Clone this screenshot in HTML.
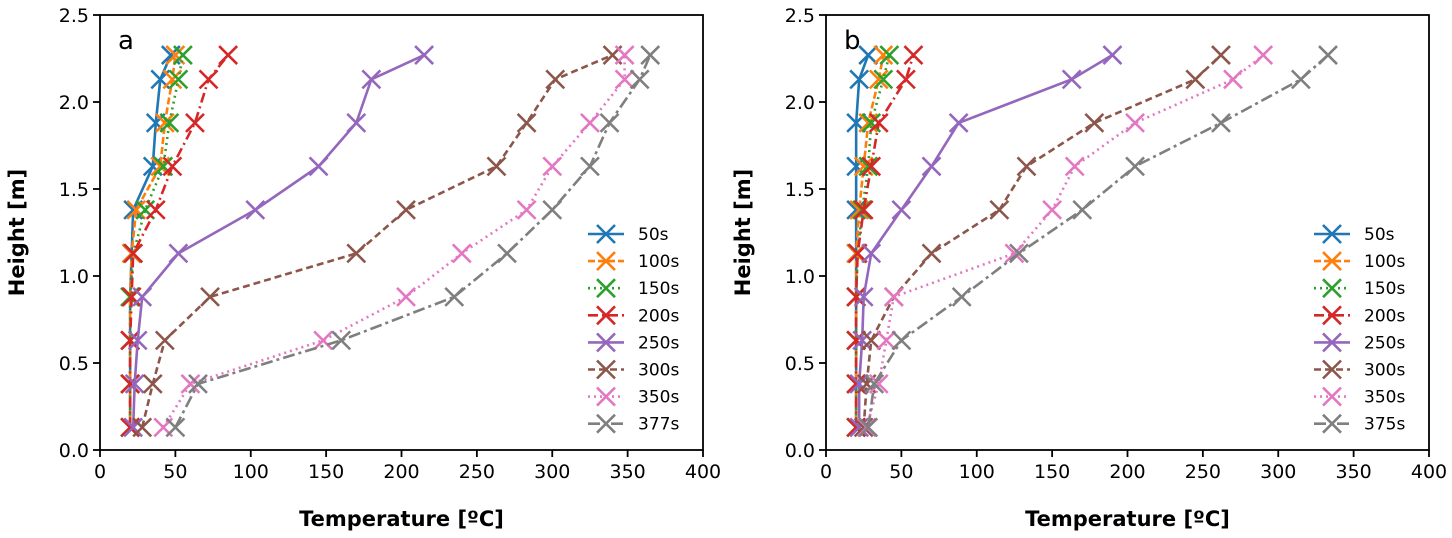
<!DOCTYPE html>
<html><head><meta charset="utf-8"><style>
body{margin:0;background:#fff}
svg{display:block;font-family:"DejaVu Sans","Liberation Sans",sans-serif}
</style></head><body>
<svg id="c" width="1452" height="538"></svg>
<script>
const heights=[0.13,0.38,0.63,0.88,1.13,1.38,1.63,1.88,2.13,2.27];
const xTicks=[0,50,100,150,200,250,300,350,400];
const yTicks=[0,0.5,1.0,1.5,2.0,2.5];
const seriesA=[
 {label:'50s',v:[20,20,20,20,21,22,35,37,40,47]},
 {label:'100s',v:[20,20,20,20,21,24,40,43,48,50]},
 {label:'150s',v:[20,20,20,20,22,30,42,46,52,55]},
 {label:'200s',v:[20,20,20,21,22,37,48,63,72,85]},
 {label:'250s',v:[22,23,25,28,52,103,145,170,180,215]},
 {label:'300s',v:[28,35,43,73,170,203,263,283,302,340]},
 {label:'350s',v:[42,60,148,203,240,283,300,325,348,348]},
 {label:'377s',v:[50,65,160,235,270,300,325,338,358,365]}];
const seriesB=[
 {label:'50s',v:[20,20,20,20,20,20,20,20,22,28]},
 {label:'100s',v:[20,20,20,20,20,22,25,28,35,38]},
 {label:'150s',v:[20,20,20,20,21,24,28,30,38,42]},
 {label:'200s',v:[20,20,20,20,21,25,30,35,53,58]},
 {label:'250s',v:[22,22,24,25,30,50,70,88,163,190]},
 {label:'300s',v:[25,27,30,45,70,115,133,178,245,262]},
 {label:'350s',v:[27,35,40,45,125,150,165,205,270,290]},
 {label:'375s',v:[28,32,50,90,128,170,205,262,315,333]}];
const colors=['#1f77b4','#ff7f0e','#2ca02c','#d62728','#9467bd','#8c564b','#e377c2','#7f7f7f'];
const dashes=['','7,3','2,4','10,4,2,4','','7,4','2,4','12,4,3,4'];
const NS='http://www.w3.org/2000/svg';
const svg=document.getElementById('c');
function mk(t,a,p){const e=document.createElementNS(NS,t);for(const k in a)e.setAttribute(k,a[k]);(p||svg).appendChild(e);return e;}
function panel(ox,series,letter,id){
 const x0=ox,x1=ox+603,y0=450,y1=15;
 const sx=v=>x0+(v-0)/400*(x1-x0), sy=v=>y0-v/2.5*(y0-y1);
 const g=mk('g',{});
 
 
 xTicks.forEach(t=>{mk('line',{x1:sx(t),x2:sx(t),y1:y0,y2:y0+7,stroke:'#000','stroke-width':1.8},g);
  const tx=mk('text',{x:sx(t),y:y0+28,'text-anchor':'middle','font-size':19},g);tx.textContent=t;
  });
 yTicks.forEach(t=>{mk('line',{x1:x0-7,x2:x0,y1:sy(t),y2:sy(t),stroke:'#000','stroke-width':1.8},g);
  const tx=mk('text',{x:x0-11,y:sy(t)+7,'text-anchor':'end','font-size':19},g);tx.textContent=t.toFixed(1);
  });
 series.forEach((s,i)=>{
  const sg=mk('g',{},g);
  
  
  const pts=s.v.map((v,j)=>sx(v)+','+sy(heights[j])).join(' ');
  mk('polyline',{points:pts,fill:'none',stroke:colors[i],'stroke-width':2.6,'stroke-dasharray':dashes[i]},sg);
  s.v.forEach((v,j)=>{const cx=sx(v),cy=sy(heights[j]),r=9;
   mk('path',{d:`M${cx-r},${cy-r}L${cx+r},${cy+r}M${cx-r},${cy+r}L${cx+r},${cy-r}`,stroke:colors[i],'stroke-width':2.6},sg);});
 });
 mk('rect',{x:x0,y:y1,width:x1-x0,height:y0-y1,fill:'none',stroke:'#000','stroke-width':1.8},g);
 const lt=mk('text',{x:x0+18,y:y1+34,'font-size':26},g);lt.textContent=letter;
 
 const xt=mk('text',{x:(x0+x1)/2,y:526,'text-anchor':'middle','font-size':21,'font-weight':'bold'},g);xt.textContent='Temperature [ºC]';
 
 const yt=mk('text',{x:0,y:0,'text-anchor':'middle','font-size':21,'font-weight':'bold',transform:`translate(${x0-76},${(y0+y1)/2}) rotate(-90)`},g);yt.textContent='Height [m]';
 
 const lg=mk('g',{},g);
 
 
 series.forEach((s,i)=>{const y=234+i*27.1,lx=x0+488;
  const eg=mk('g',{},lg);
  
  
  mk('line',{x1:lx,x2:lx+36,y1:y,y2:y,stroke:colors[i],'stroke-width':2.6,'stroke-dasharray':dashes[i]},eg);
  const cx=lx+18,r=9;
  mk('path',{d:`M${cx-r},${y-r}L${cx+r},${y+r}M${cx-r},${y+r}L${cx+r},${y-r}`,stroke:colors[i],'stroke-width':2.6},eg);
  const t=mk('text',{x:lx+50,y:y+6,'font-size':17},eg);t.textContent=s.label;});
}
panel(100,seriesA,'a','a');
panel(826,seriesB,'b','b');
</script>
</body></html>
